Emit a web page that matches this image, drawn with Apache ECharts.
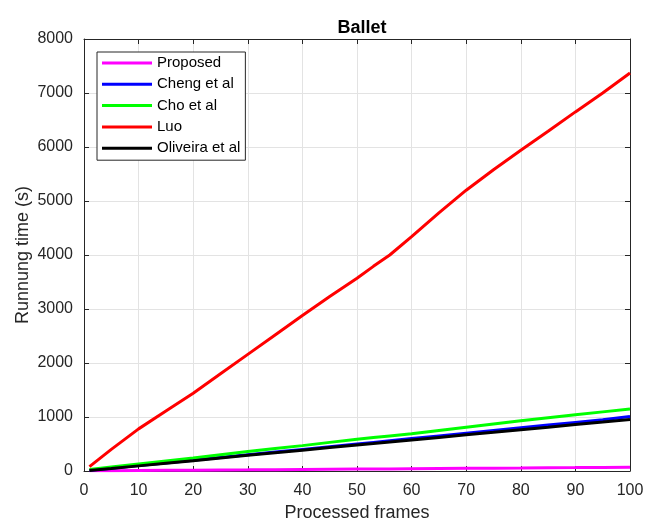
<!DOCTYPE html>
<html>
<head>
<meta charset="utf-8">
<script src="https://cdn.jsdelivr.net/npm/echarts@6/dist/echarts.min.js"></script>
<style>
html,body{margin:0;padding:0;background:#fff;}
#chart{width:646px;height:523px;}
</style>
</head>
<body>
<div id="chart"></div>
<script>
// Running time of each method against the number of processed frames (Ballet)
const frames = [1, 5, 10, 15, 20, 25, 30, 35, 40, 45, 50, 53, 56, 60, 65, 70, 75, 80, 85, 90, 95, 100];
const proposed = [3, 6, 9, 12, 15, 18, 21, 25, 28, 31, 35, 37, 39, 42, 46, 49, 53, 56, 60, 63, 67, 70];
const cheng    = [12, 50, 100, 150, 200, 250, 300, 350, 400, 450, 500, 530, 560, 600, 650, 700, 750, 800, 850, 900, 950, 1010];
const cho      = [30, 75, 130, 185, 240, 300, 360, 415, 470, 530, 590, 620, 650, 690, 750, 810, 870, 930, 985, 1040, 1095, 1150];
const luo      = [80, 400, 780, 1110, 1440, 1800, 2160, 2520, 2880, 3230, 3570, 3790, 4000, 4340, 4780, 5200, 5580, 5940, 6290, 6650, 7000, 7370];
const oliveira = [10, 45, 95, 143, 190, 240, 290, 338, 385, 433, 480, 508, 537, 575, 622, 670, 717, 765, 812, 860, 907, 955];

const xTicks = [0, 10, 20, 30, 40, 50, 60, 70, 80, 90, 100];
const yTicks = [0, 1000, 2000, 3000, 4000, 5000, 6000, 7000, 8000];

const seriesDefs = [
  { name: 'Proposed',    data: proposed, color: '#ff00ff' },
  { name: 'Cheng et al', data: cheng,    color: '#0000ff' },
  { name: 'Cho et al',   data: cho,      color: '#00ff00' },
  { name: 'Luo',         data: luo,      color: '#ff0000' },
  { name: 'Oliveira et al', data: oliveira, color: '#000000' }
];

const font = 'Liberation Sans, Arial, Helvetica, sans-serif';
const axisColor = '#262626';
const gridColor = '#e3e3e3';

function makeAxis(kind, pos, labels) {
  const isX = kind === 'x';
  const ticks = isX ? xTicks : yTicks;
  return {
    type: 'value',
    position: pos,
    min: ticks[0],
    max: ticks[ticks.length - 1],
    interval: ticks[1] - ticks[0],
    axisLine: { show: true, onZero: false, lineStyle: { color: axisColor, width: 1 } },
    axisTick: { show: true, inside: true, length: 5, lineStyle: { color: axisColor } },
    splitLine: { show: labels, lineStyle: { color: gridColor, width: 1 } },
    axisLabel: labels ? {
      show: true, color: axisColor, fontFamily: font, fontSize: 16,
      margin: isX ? 12 : 11,
      formatter: v => String(v)
    } : { show: false },
    name: labels ? (isX ? 'Processed frames' : 'Runnung time (s)') : '',
    nameLocation: 'middle',
    nameGap: isX ? 33 : 52,
    nameMoveOverlap: false,
    nameTextStyle: { color: axisColor, fontFamily: font, fontSize: 18 }
  };
}

const chart = echarts.init(document.getElementById('chart'), null, { renderer: 'canvas' });
chart.setOption({
  animation: false,
  backgroundColor: '#ffffff',
  title: {
    text: 'Ballet',
    left: 357,
    textAlign: 'center',
    top: 14,
    textStyle: { fontFamily: font, fontSize: 18, fontWeight: 'bold', color: '#000' }
  },
  grid: { left: 84, right: 16, top: 39, bottom: 52, containLabel: false, outerBoundsMode: 'none' },
  legend: {
    orient: 'vertical',
    left: 97,
    top: 52,
    backgroundColor: '#ffffff',
    borderColor: axisColor,
    borderWidth: 1,
    padding: [3, 5, 4, 5],
    itemGap: 5.3,
    itemWidth: 50,
    itemHeight: 16,
    icon: 'path://M0,0 L50,0 L50,3 L0,3 Z',
    textStyle: { fontFamily: font, fontSize: 15, lineHeight: 16, color: '#000' },
    data: seriesDefs.map(s => s.name)
  },
  xAxis: [makeAxis('x', 'bottom', true), makeAxis('x', 'top', false)],
  yAxis: [makeAxis('y', 'left', true), makeAxis('y', 'right', false)],
  series: seriesDefs.map(s => ({
    name: s.name,
    type: 'line',
    xAxisIndex: 0,
    yAxisIndex: 0,
    data: frames.map((f, i) => [f, s.data[i]]),
    showSymbol: false,
    symbol: 'none',
    lineStyle: { color: s.color, width: 3 },
    itemStyle: { color: s.color },
    clip: true
  }))
});
</script>
</body>
</html>
